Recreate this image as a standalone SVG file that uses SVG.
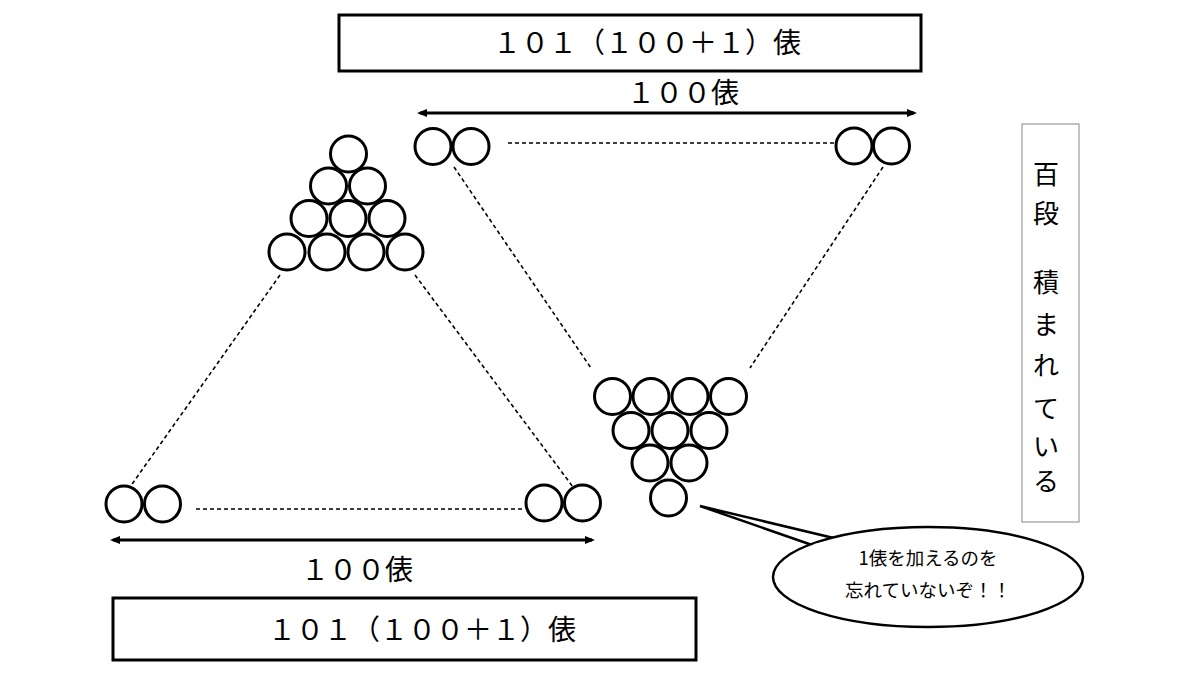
<svg xmlns="http://www.w3.org/2000/svg" width="1200" height="675" viewBox="0 0 1200 675">
<defs>
<style>
.b{fill:#fff;stroke:#000;stroke-width:3}
.d{fill:none;stroke:#000;stroke-width:1.6;stroke-dasharray:4 3}
.t{font-family:"Noto Sans CJK JP","Noto Sans",sans-serif;fill:#000}
.big{font-size:28px}
.v{font-size:26px;text-anchor:middle}
.s{font-size:18.5px;text-anchor:middle}
.arr{stroke:#000;stroke-width:3;fill:none}
</style>
<symbol id="ball" overflow="visible"><circle cx="0" cy="0" r="18" class="b"/></symbol>
<marker id="ah" markerWidth="10" markerHeight="10" refX="7" refY="4" orient="auto-start-reverse" markerUnits="userSpaceOnUse" viewBox="0 0 10 8"><path d="M0,0 L10,4 L0,8 z" fill="#000"/></marker>
</defs>
<rect width="1200" height="675" fill="#fff"/>

<g id="connectors">
<line class="d" x1="508" y1="143" x2="834" y2="143"/>
<line class="d" x1="196" y1="509" x2="522" y2="509"/>
<line class="d" x1="454" y1="167" x2="591" y2="368"/>
<line class="d" x1="883" y1="167" x2="750" y2="368"/>
<line class="d" x1="280" y1="275" x2="130" y2="487"/>
<line class="d" x1="415" y1="275" x2="573" y2="487"/>
<line class="arr" x1="420" y1="113" x2="914" y2="113" marker-start="url(#ah)" marker-end="url(#ah)"/>
<line class="arr" x1="113" y1="540" x2="592" y2="540" marker-start="url(#ah)" marker-end="url(#ah)"/>
</g>

<g id="top-box">
<rect x="339" y="15" width="582" height="56" fill="#fff" stroke="#000" stroke-width="3"/>
<text class="t big" x="647" y="53" text-anchor="middle">１０１（１００＋１）俵</text>
</g>
<g id="top-label"><text class="t big" x="683" y="103" text-anchor="middle">１００俵</text></g>

<g id="bottom-box">
<rect x="113" y="598" width="583" height="62" fill="#fff" stroke="#000" stroke-width="3"/>
<text class="t big" x="422" y="640" text-anchor="middle">１０１（１００＋１）俵</text>
</g>
<g id="bottom-label"><text class="t big" x="357" y="580" text-anchor="middle">１００俵</text></g>

<g id="pyramid-left">
<use href="#ball" x="348.5" y="154"/>
<use href="#ball" x="328.5" y="186"/><use href="#ball" x="367.5" y="186"/>
<use href="#ball" x="309" y="218.5"/><use href="#ball" x="348" y="218.5"/><use href="#ball" x="387" y="218.5"/>
<use href="#ball" x="287" y="252"/><use href="#ball" x="327" y="252"/><use href="#ball" x="366" y="252"/><use href="#ball" x="405" y="252"/>
</g>

<g id="pyramid-inverted">
<use href="#ball" x="612.5" y="396.5"/><use href="#ball" x="651" y="396.5"/><use href="#ball" x="690" y="396.5"/><use href="#ball" x="728.5" y="396.5"/>
<use href="#ball" x="631" y="430.5"/><use href="#ball" x="670" y="430.5"/><use href="#ball" x="709" y="430.5"/>
<use href="#ball" x="650" y="463"/><use href="#ball" x="689" y="463"/>
<use href="#ball" x="668.5" y="498"/>
</g>

<g id="pair-top-left"><use href="#ball" x="433" y="146.5"/><use href="#ball" x="471" y="146.5"/></g>
<g id="pair-top-right"><use href="#ball" x="854" y="146"/><use href="#ball" x="891.5" y="146"/></g>
<g id="pair-bottom-left"><use href="#ball" x="124" y="504"/><use href="#ball" x="162.5" y="504"/></g>
<g id="pair-bottom-right"><use href="#ball" x="544" y="503"/><use href="#ball" x="582.5" y="503"/></g>

<g id="vertical-box">
<rect x="1022" y="124" width="57" height="398" fill="#fff" stroke="#999" stroke-width="1.2"/>
<text class="t v" x="1046" y="184">百</text>
<text class="t v" x="1046" y="223">段</text>
<text class="t v" x="1046" y="292">積</text>
<text class="t v" x="1046" y="334">ま</text>
<text class="t v" x="1046" y="375">れ</text>
<text class="t v" x="1046" y="418">て</text>
<text class="t v" x="1046" y="456">い</text>
<text class="t v" x="1046" y="491">る</text>
</g>

<g id="callout">
<path d="M812,545 L700,506 L842,540 Z" fill="#fff" stroke="#000" stroke-width="2.5" stroke-linejoin="miter"/>
<ellipse cx="928" cy="577" rx="155" ry="50" fill="#fff" stroke="#000" stroke-width="2.5"/>
<path d="M814,546 L840,541" stroke="#fff" stroke-width="4"/>
<text class="t s" x="928" y="565">1俵を加えるのを</text>
<text class="t s" x="928" y="597">忘れていないぞ！！</text>
</g>
</svg>
